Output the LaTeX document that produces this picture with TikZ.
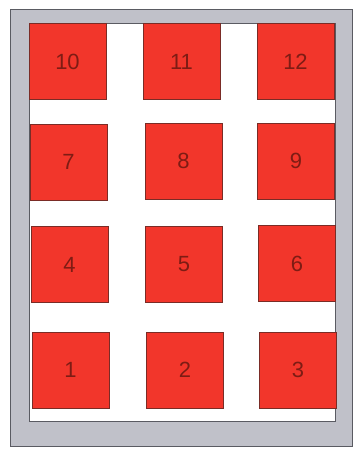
\documentclass[tikz,border=0pt]{standalone}
\usepackage{fontspec}
\setmainfont{Liberation Sans}
\usepackage{xcolor}
\definecolor{lkframe}{HTML}{C0C1C9}
\definecolor{lkedge}{HTML}{5A5B62}
\definecolor{lkred}{HTML}{F2362B}
\definecolor{lkredline}{HTML}{7A2C26}
\definecolor{lkink}{HTML}{7E1C14}
\usepackage{tikz}
\tikzset{
  lkouter/.style={draw=lkedge, fill=lkframe, line width=0.9pt},
  lkinner/.style={draw=lkedge, fill=white, line width=0.7pt},
  lkcell/.style ={rectangle, draw=lkredline, fill=lkred, line width=0.7pt,
                  minimum width=77pt, minimum height=76pt, inner sep=0pt,
                  font=\fontsize{22}{26}\selectfont, text=lkink},
}

\begin{document}
\begin{tikzpicture}[x=1pt, y=-1pt]
  \useasboundingbox (0,0) rectangle (357,450);
  \path[lkouter] (10,9) rectangle (352,446);
  \path[lkinner] (29,23) rectangle (335,421);
  \foreach \n/\x/\y in {10/67.5/61.5, 11/181.5/61.5, 12/295.5/61.5,
                        7/68.5/162, 8/183.5/161, 9/296/161,
                        4/69.5/264.5, 5/184/264, 6/297/263.5,
                        1/70.5/370, 2/185/370, 3/298/370}{
    \node[lkcell] (cell\n) at (\x,\y) {\n};
  }
\end{tikzpicture}
\end{document}
